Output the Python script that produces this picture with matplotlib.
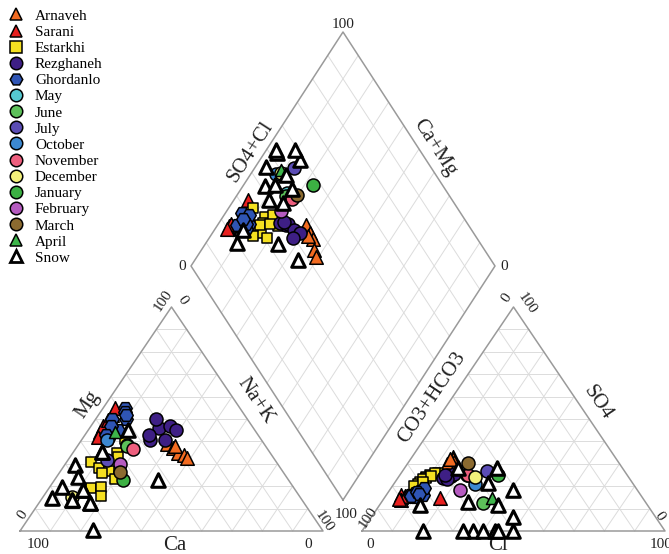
import numpy as np
import matplotlib.pyplot as plt
from matplotlib.lines import Line2D

plt.rcParams['font.family'] = ['Liberation Serif', 'DejaVu Serif']

# -----------------------------
# Sample data, percent: (Mg, Na+K, SO4, Cl)
# Ca = 100 - Mg - NaK ; CO3+HCO3 = 100 - SO4 - Cl
# -----------------------------
arnaveh = [(39, 29, 33, 13.5), (37, 32, 32, 14), (35, 34.5, 31, 15),
           (34, 37, 30, 14), (32.5, 39, 30, 13), (38, 32, 32, 13)]
sarani = [(44, 4.3, 15, 5.5), (47, 4, 16, 5), (49.5, 4.2, 14, 6),
          (52, 4.2, 15.5, 6.5), (55, 3.9, 14.5, 5), (42, 4.7, 14.7, 18.4)]
estarkhi = [(41, 14, 25, 10), (35, 14.5, 24, 9), (33, 16, 22, 8), (31, 8, 23.5, 9.5),
            (28, 12, 21, 8), (27, 16, 26, 12), (26, 14, 23, 8.5), (23, 20, 26, 11),
            (19, 14, 20, 7), (19.5, 17, 24.5, 10.5), (15.5, 19, 22, 9)]
rezghaneh = [(40.5, 22.5, 24, 16), (46, 23, 25, 16), (47, 26, 24.5, 17), (50, 20, 23.5, 15),
             (45, 29, 25.5, 17.5), (40.5, 27.5, 23, 16.5), (43, 21, 25, 15)]
ghordanlo = [(55, 7, 16, 8), (50, 5.5, 18, 10), (45, 10, 16, 12), (41, 8.5, 15, 10),
             (50, 10, 17, 9), (53, 8, 19, 11), (47, 6.5, 15.5, 8.5), (52, 9, 17.5, 9.5),
             (43, 7, 16.5, 10.5)]
may = [(38.4, 16, 25, 22)]
june = [(38, 16.3, 12.5, 33.7)]
july = [(31.7, 12.9, 26.8, 27.9)]
october = [(40.6, 8.4, 21, 26.8)]
november = [(36.6, 19, 25, 22.5)]
december = [(15.2, 9.6, 24.1, 25.3)]
january = [(22.8, 22.6, 25, 32.4)]
february = [(30, 18, 18.3, 23.2)]
march = [(26.3, 19.8, 30.4, 19.8)]
april = [(44.2, 9.3, 14.7, 35.5)]
snow = [(45.1, 13.1, 28.1, 30.5), (35.3, 9.5, 18.3, 40.6), (29.5, 3.5, 28.1, 17.6),
        (24.1, 7, 12.9, 28.5), (22.8, 34.1, 0, 36.6), (19.6, 4.1, 21.4, 30.9),
        (18.3, 11.6, 11.6, 39.1), (13.8, 10.3, 0, 20.1), (14.7, 3.2, 6.25, 46.7),
        (12.5, 16.9, 0, 43.9), (0.4, 23.9, 0, 33.3), (35.3, 9.5, 11.6, 13.3),
        (18.3, 11.6, 0, 39.9), (13.8, 10.3, 0, 44.9), (12.5, 16.9, 0, 49.8)]

groups = [
    ("Arnaveh", arnaveh, '^', '#F26B21', 95),
    ("Sarani", sarani, '^', '#E8201F', 95),
    ("Estarkhi", estarkhi, 's', '#F5E021', 62),
    ("Rezghaneh", rezghaneh, 'o', '#3E1F85', 88),
    ("Ghordanlo", ghordanlo, 'H', '#2F55B5', 95),
    ("May", may, 'o', '#55C8D0', 88),
    ("June", june, 'o', '#5DC05A', 88),
    ("July", july, 'o', '#5B4DB5', 88),
    ("October", october, 'o', '#3C88D0', 88),
    ("November", november, 'o', '#EE5F7E', 88),
    ("December", december, 'o', '#F3F07A', 88),
    ("January", january, 'o', '#3CB043', 88),
    ("February", february, 'o', '#B55BC0', 88),
    ("March", march, 'o', '#8B6A30', 88),
    ("April", april, '^', '#3DB54A', 75),
    ("Snow", snow, '^', 'white', 95),
]

# -----------------------------
# Layout (pixel space of the 669x554 figure)
# -----------------------------
cat_bl, cat_br, cat_t = np.array([20, 531]), np.array([323, 531]), np.array([171.5, 307])
an_bl, an_br, an_t = np.array([362, 531]), np.array([665, 531]), np.array([513.5, 307])
d_b, d_l, d_r = np.array([343, 500]), np.array([191, 266]), np.array([495, 266])
d_t = d_l + d_r - d_b


def tri(bl, br, t, a, b, c):
    # a -> bottom-left, b -> bottom-right, c -> top (fractions)
    return np.outer(a, bl) + np.outer(b, br) + np.outer(c, t)


def dia(v, u):
    # v = Ca+Mg, u = SO4+Cl (fractions)
    return d_b + np.outer(v, d_l - d_b) + np.outer(u, d_r - d_b)


fig = plt.figure(figsize=(6.69, 5.54), dpi=100)
ax = fig.add_axes([0, 0, 1, 1])
ax.set_xlim(0, 669)
ax.set_ylim(554, 0)
ax.axis('off')

grid_kw = dict(color='#DCDCDC', lw=0.7, zorder=1)
edge_kw = dict(color='#9A9A9A', lw=1.1, zorder=2)

# triangle grids and outlines
for bl, br, t in [(cat_bl, cat_br, cat_t), (an_bl, an_br, an_t)]:
    for k in range(1, 10):
        f = k / 10
        for p, q in [
            (tri(bl, br, t, 1 - f, 0, f), tri(bl, br, t, 0, 1 - f, f)),
            (tri(bl, br, t, 1 - f, f, 0), tri(bl, br, t, 0, f, 1 - f)),
            (tri(bl, br, t, f, 1 - f, 0), tri(bl, br, t, f, 0, 1 - f)),
        ]:
            ax.plot([p[0, 0], q[0, 0]], [p[0, 1], q[0, 1]], **grid_kw)
    ol = np.array([bl, br, t, bl])
    ax.plot(ol[:, 0], ol[:, 1], **edge_kw)

# diamond grid and outline
for k in range(1, 10):
    f = k / 10
    p, q = dia(f, 0)[0], dia(f, 1)[0]
    ax.plot([p[0], q[0]], [p[1], q[1]], **grid_kw)
    p, q = dia(0, f)[0], dia(1, f)[0]
    ax.plot([p[0], q[0]], [p[1], q[1]], **grid_kw)
ol = np.array([d_b, d_l, d_t, d_r, d_b])
ax.plot(ol[:, 0], ol[:, 1], **edge_kw)

# -----------------------------
# Data points
# -----------------------------
for z, (name, data, mk, col, s) in enumerate(groups):
    arr = np.array(data, dtype=float) / 100
    mg, nak, so4, cl = arr[:, 0], arr[:, 1], arr[:, 2], arr[:, 3]
    ca = 1 - mg - nak
    hco3 = 1 - so4 - cl
    lw = 2.2 if name == "Snow" else 1.1
    kw = dict(marker=mk, c=col, s=s, edgecolors='black', linewidths=lw, zorder=5 + z)
    pc = tri(cat_bl, cat_br, cat_t, ca, nak, mg)
    pa = tri(an_bl, an_br, an_t, hco3, cl, so4)
    pd = dia(ca + mg, so4 + cl)
    for pts in (pc, pa, pd):
        ax.scatter(pts[:, 0], pts[:, 1], **kw)

# -----------------------------
# Labels
# -----------------------------
tick = dict(fontsize=11, ha='center', va='center', color='#222222')
title = dict(fontsize=15, ha='center', va='center', color='#222222')
ang_t = np.degrees(np.arctan2(224, 151.5))
ang_d = np.degrees(np.arctan2(234, 152))

# cation triangle
ax.text(38, 544, "100", **tick)
ax.text(308, 544, "0", **tick)
ax.text(175, 546, "Ca", **title)
ax.text(23, 515, "0", rotation=ang_t, **tick)
ax.text(163, 301, "100", rotation=ang_t, **tick)
ax.text(182, 300, "0", rotation=-ang_t, **tick)
ax.text(324, 522, "100", rotation=-ang_t, **tick)
ax.text(88, 405, "Mg", rotation=ang_t, **title)
ax.text(255, 401, "Na+K", rotation=-ang_t, **title)

# anion triangle
ax.text(370, 544, "0", **tick)
ax.text(661, 544, "100", **tick)
ax.text(498, 546, "Cl", **title)
ax.text(368, 518, "100", rotation=ang_t, **tick)
ax.text(507, 298, "0", rotation=ang_t, **tick)
ax.text(527, 304, "100", rotation=-ang_t, **tick)
ax.text(659, 516, "0", rotation=-ang_t, **tick)
ax.text(432, 398, "CO3+HCO3", rotation=ang_t, **title)
ax.text(598, 403, "SO4", rotation=-ang_t, **title)

# diamond
ax.text(343, 24, "100", **tick)
ax.text(182, 267, "0", **tick)
ax.text(504, 267, "0", **tick)
ax.text(346, 514, "100", **tick)
ax.text(251, 152, "SO4+Cl", rotation=ang_d, **title)
ax.text(435, 148, "Ca+Mg", rotation=-ang_d, **title)

# -----------------------------
# Legend
# -----------------------------
handles = []
for name, data, mk, col, s in groups:
    mew = 2.0 if name == "Snow" else 1.1
    ms = 9 if mk != 's' else 8
    handles.append(Line2D([], [], ls='none', marker=mk, markerfacecolor=col,
                          markeredgecolor='black', markeredgewidth=mew,
                          markersize=ms, label=name))
fig.legend(handles=handles, loc='upper left', bbox_to_anchor=(0.005, 0.992),
           frameon=False, fontsize=11, handlelength=1.0, handletextpad=0.77,
           labelspacing=0.16, borderpad=0.3, borderaxespad=0.0)

fig.savefig("out.png", dpi=100)
plt.close(fig)
